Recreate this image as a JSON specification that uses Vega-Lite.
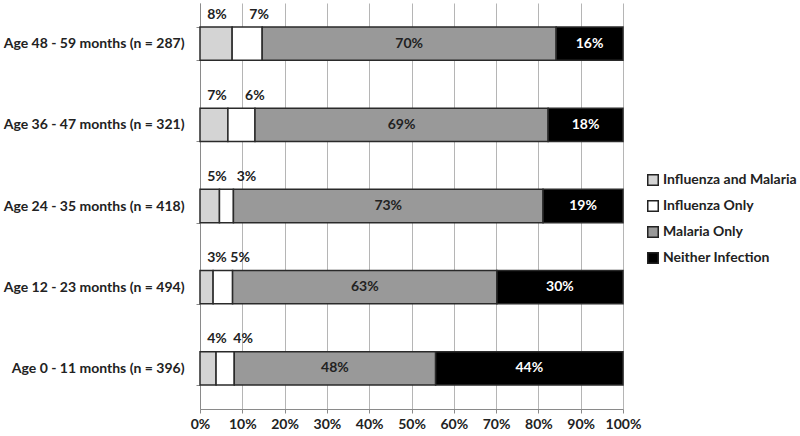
{
  "$schema": "https://vega.github.io/schema/vega-lite/v6.json",
  "width": 423,
  "height": 406,
  "autosize": "none",
  "padding": {"left": 200, "top": 3, "right": 177, "bottom": 27},
  "background": "white",
  "config": {"view": {"stroke": null}, "font": "Lato", "text": {"font": "Lato"}},
  "data": {
    "values": [
      {"age": "Age 48 - 59 months (n = 287)", "cat": "Influenza and Malaria", "k": 1, "v": 0.076},
      {"age": "Age 48 - 59 months (n = 287)", "cat": "Influenza Only", "k": 2, "v": 0.071},
      {"age": "Age 48 - 59 months (n = 287)", "cat": "Malaria Only", "k": 3, "v": 0.695},
      {"age": "Age 48 - 59 months (n = 287)", "cat": "Neither Infection", "k": 4, "v": 0.158},
      {"age": "Age 36 - 47 months (n = 321)", "cat": "Influenza and Malaria", "k": 1, "v": 0.066},
      {"age": "Age 36 - 47 months (n = 321)", "cat": "Influenza Only", "k": 2, "v": 0.064},
      {"age": "Age 36 - 47 months (n = 321)", "cat": "Malaria Only", "k": 3, "v": 0.693},
      {"age": "Age 36 - 47 months (n = 321)", "cat": "Neither Infection", "k": 4, "v": 0.177},
      {"age": "Age 24 - 35 months (n = 418)", "cat": "Influenza and Malaria", "k": 1, "v": 0.046},
      {"age": "Age 24 - 35 months (n = 418)", "cat": "Influenza Only", "k": 2, "v": 0.033},
      {"age": "Age 24 - 35 months (n = 418)", "cat": "Malaria Only", "k": 3, "v": 0.732},
      {"age": "Age 24 - 35 months (n = 418)", "cat": "Neither Infection", "k": 4, "v": 0.189},
      {"age": "Age 12 - 23 months (n = 494)", "cat": "Influenza and Malaria", "k": 1, "v": 0.031},
      {"age": "Age 12 - 23 months (n = 494)", "cat": "Influenza Only", "k": 2, "v": 0.046},
      {"age": "Age 12 - 23 months (n = 494)", "cat": "Malaria Only", "k": 3, "v": 0.625},
      {"age": "Age 12 - 23 months (n = 494)", "cat": "Neither Infection", "k": 4, "v": 0.298},
      {"age": "Age 0 - 11 months (n = 396)", "cat": "Influenza and Malaria", "k": 1, "v": 0.038},
      {"age": "Age 0 - 11 months (n = 396)", "cat": "Influenza Only", "k": 2, "v": 0.043},
      {"age": "Age 0 - 11 months (n = 396)", "cat": "Malaria Only", "k": 3, "v": 0.476},
      {"age": "Age 0 - 11 months (n = 396)", "cat": "Neither Infection", "k": 4, "v": 0.443}
    ]
  },
  "transform": [
    {"stack": "v", "groupby": ["age"], "sort": [{"field": "k", "order": "ascending"}], "as": ["x0", "x1"]}
  ],
  "encoding": {
    "y": {
      "field": "age",
      "type": "nominal",
      "sort": ["Age 48 - 59 months (n = 287)", "Age 36 - 47 months (n = 321)", "Age 24 - 35 months (n = 418)", "Age 12 - 23 months (n = 494)", "Age 0 - 11 months (n = 396)"],
      "scale": {"paddingInner": 0.59, "paddingOuter": 0.295},
      "axis": {"title": null, "ticks": true, "tickBand": "extent", "tickSize": 4, "tickColor": "#8a8a8a", "domainColor": "#8a8a8a", "domainWidth": 1, "labelFont": "Lato", "labelFontWeight": "bold", "labelFontSize": 14, "labelColor": "#222222", "labelPadding": 12, "labelLimit": 0}
    }
  },
  "layer": [
    {
      "mark": {"type": "bar", "stroke": "#2a2a2a", "strokeWidth": 1.5},
      "encoding": {
        "x": {
          "field": "x0",
          "type": "quantitative",
          "scale": {"domain": [0, 1], "nice": false},
          "axis": {
            "title": null,
            "format": ".0%",
            "values": [0, 0.1, 0.2, 0.3, 0.4, 0.5, 0.6, 0.7, 0.8, 0.9, 1],
            "labelOverlap": false,
            "labelFlush": false,
            "grid": true,
            "gridColor": "#b5b5b5",
            "gridWidth": 1,
            "domainColor": "#8a8a8a",
            "tickColor": "#8a8a8a",
            "tickSize": 4,
            "labelFont": "Lato",
            "labelFontWeight": "bold",
            "labelFontSize": 14,
            "labelColor": "#222222",
            "labelPadding": 4
          }
        },
        "x2": {"field": "x1"},
        "color": {
          "field": "cat",
          "type": "nominal",
          "scale": {"domain": ["Influenza and Malaria", "Influenza Only", "Malaria Only", "Neither Infection"], "range": ["#d4d4d4", "#ffffff", "#999999", "#000000"]},
          "legend": {
            "title": null,
            "orient": "none",
            "legendX": 446,
            "legendY": 170,
            "symbolType": "square",
            "symbolSize": 110,
            "symbolStrokeColor": "#222222",
            "symbolStrokeWidth": 1.5,
            "symbolOpacity": 1,
            "labelFont": "Lato",
            "labelFontWeight": "bold",
            "labelFontSize": 14,
            "labelColor": "#222222",
            "rowPadding": 8,
            "labelOffset": 3
          }
        }
      }
    },
    {
      "transform": [{"filter": {"field": "k", "equal": 1}}],
      "mark": {"type": "text", "dx": 17, "dy": -29, "fontWeight": "bold", "fontSize": 14, "color": "#222222", "baseline": "middle"},
      "encoding": {
        "x": {"field": "x0", "type": "quantitative"},
        "text": {"field": "v", "type": "quantitative", "format": ".0%"}
      }
    },
    {
      "transform": [{"filter": {"field": "k", "equal": 2}}],
      "mark": {"type": "text", "dx": 27, "dy": -29, "fontWeight": "bold", "fontSize": 14, "color": "#222222", "baseline": "middle"},
      "encoding": {
        "x": {"field": "x0", "type": "quantitative"},
        "text": {"field": "v", "type": "quantitative", "format": ".0%"}
      }
    },
    {
      "transform": [{"filter": {"field": "k", "equal": 3}}, {"fold": ["x0", "x1"], "as": ["edge", "pos"]}],
      "mark": {"type": "text", "fontWeight": "bold", "fontSize": 14, "color": "#222222", "baseline": "middle"},
      "encoding": {
        "x": {"aggregate": "mean", "field": "pos", "type": "quantitative"},
        "text": {"aggregate": "max", "field": "v", "type": "quantitative", "format": ".0%"}
      }
    },
    {
      "transform": [{"filter": {"field": "k", "equal": 4}}, {"fold": ["x0", "x1"], "as": ["edge", "pos"]}],
      "mark": {"type": "text", "fontWeight": "bold", "fontSize": 14, "color": "#ffffff", "baseline": "middle"},
      "encoding": {
        "x": {"aggregate": "mean", "field": "pos", "type": "quantitative"},
        "text": {"aggregate": "max", "field": "v", "type": "quantitative", "format": ".0%"}
      }
    }
  ]
}
